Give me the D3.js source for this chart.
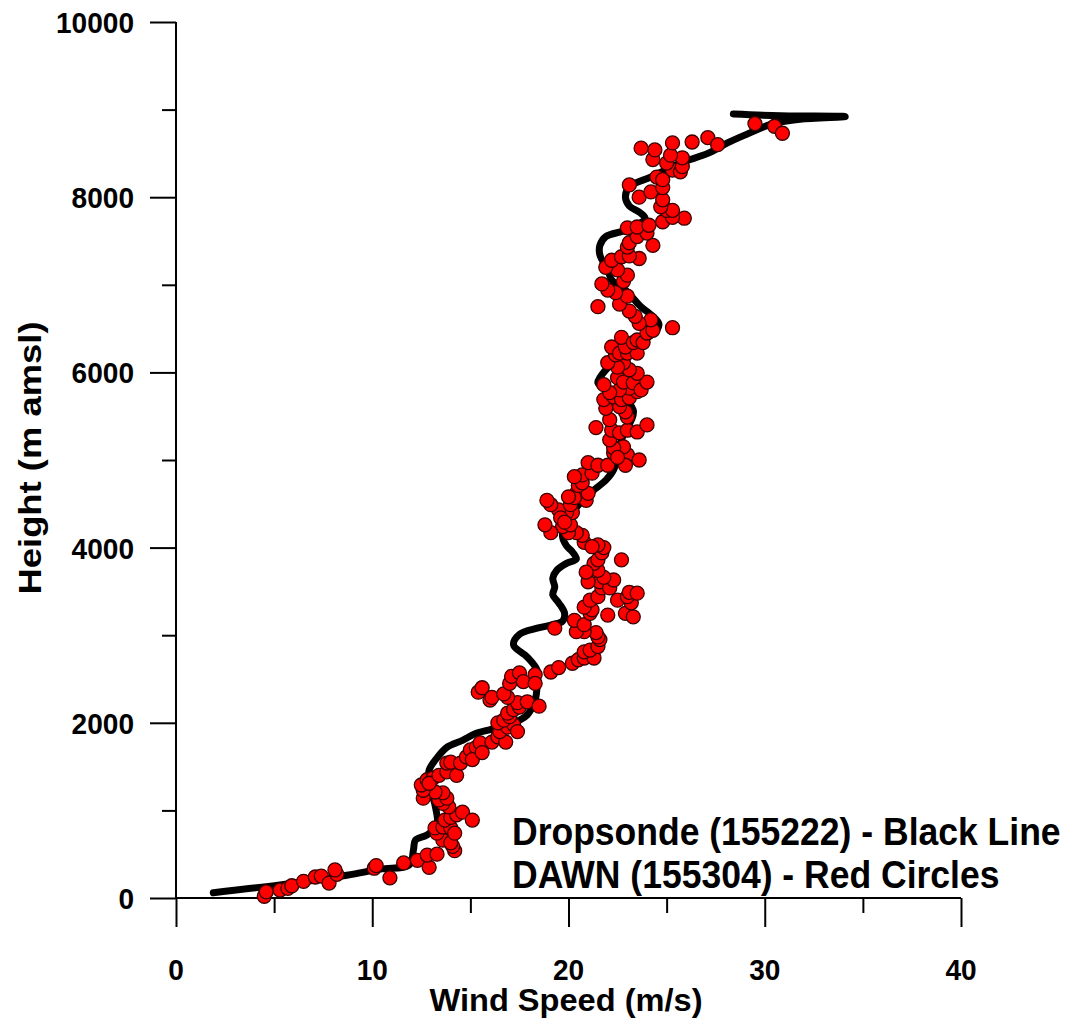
<!DOCTYPE html>
<html><head><meta charset="utf-8">
<script src="https://cdn.jsdelivr.net/npm/d3@7"></script>
<style>body{margin:0;background:#fff}svg{display:block}text{font-family:"Liberation Sans",Arial,sans-serif;font-weight:bold;fill:#000}</style>
</head><body><div id="chart"></div>
<script>
// Dropsonde (black line): wind speed (m/s), height (m amsl)
const sondeSpeed = [1.9,5.3,8.7,10.4,11.9,12.1,12.2,12.8,13.3,13.2,12.9,12.9,13.3,13.8,14.6,15.3,16.5,17.5,17.9,18.3,18.4,18.4,17.9,17.2,17.5,18.4,19.2,19.7,19.8,19.5,19.2,19.3,19.2,19.4,19.9,20.4,20.2,19.9,19.7,19.8,20.3,21.1,21.9,22.3,22.7,23.3,22.4,21.5,21.6,22.4,23.4,24.5,24.6,23.6,22.9,22.2,22.0,21.6,21.6,21.9,23.0,23.9,23.6,23.1,22.9,23.1,24.2,25.7,27.1,28.1,29.1,30.4,31.8,34.1,30.8,28.4];
const sondeHeight = [60,150,260,330,380,550,660,720,830,1060,1290,1460,1600,1720,1800,1880,1950,2030,2090,2260,2430,2600,2750,2890,3010,3080,3120,3160,3250,3370,3460,3550,3650,3740,3820,3870,3950,4020,4120,4260,4430,4620,4770,4890,5230,5570,5740,5880,5940,6140,6310,6480,6560,6770,6940,7055,7170,7340,7450,7550,7630,7760,7830,7900,8000,8120,8230,8390,8500,8620,8720,8840,8890,8920,8930,8950];
// DAWN (red circles)
const dawnSpeed = [4.5,4.6,5.3,5.7,5.9,6.5,7.1,7.4,7.8,8.2,8.1,10.1,10.2,10.9,11.6,12.3,12.9,12.8,13.3,14.2,14.1,13.6,14.0,13.3,13.2,13.6,14.0,14.2,13.7,14.0,14.3,14.6,15.1,13.9,13.6,13.4,13.8,13.6,13.2,12.6,12.6,12.5,12.8,13.1,12.9,13.4,13.8,13.8,14.0,14.3,14.5,14.8,15.0,15.3,15.5,15.1,15.6,16.1,16.4,16.8,16.5,16.9,17.2,17.4,16.4,16.7,17.0,16.9,17.2,17.5,17.4,17.9,18.5,16.0,16.9,15.4,15.6,16.1,16.7,17.0,17.1,17.5,17.7,18.3,18.3,19.1,19.5,20.2,20.5,20.8,21.3,20.8,21.1,21.5,21.6,21.5,21.4,20.8,20.4,20.3,20.8,19.3,21.1,21.2,20.8,21.1,21.5,22.0,22.5,22.9,23.3,23.2,23.0,23.1,23.5,21.7,21.6,22.1,22.3,21.8,21.5,21.3,21.5,21.0,20.9,21.7,21.8,21.5,22.7,20.8,20.7,20.4,20.0,19.7,20.1,19.1,18.8,20.2,19.9,19.5,19.1,18.9,20.1,20.9,19.6,19.8,21.2,20.4,20.3,20.0,21.0,20.5,20.7,20.7,20.3,21.2,21.0,21.5,22.0,22.3,23.0,22.9,23.6,22.8,22.3,22.5,22.1,21.4,22.2,22.6,23.0,23.5,24.0,22.1,23.0,22.9,22.6,21.9,21.8,22.3,22.7,23.1,23.5,23.1,22.6,22.1,21.8,22.5,22.8,23.3,23.7,24.0,23.5,23.1,22.8,22.5,22.0,22.4,22.2,22.6,23.0,23.5,22.9,22.7,23.3,23.5,23.8,24.0,24.3,25.3,24.2,23.6,23.4,23.1,21.5,22.6,23.0,22.4,22.0,21.7,22.8,23.0,22.5,21.9,22.2,22.7,23.6,23.1,23.0,23.1,24.3,23.5,24.0,23.0,23.5,24.1,24.8,25.9,25.3,25.0,25.3,24.7,24.8,23.6,24.2,24.8,23.1,24.5,24.8,25.3,25.7,25.8,25.8,25.0,25.2,25.3,24.3,24.4,23.7,26.3,27.1,27.6,29.5,30.5,30.9];
const dawnHeight = [20,70,90,110,140,190,240,250,170,270,320,340,370,230,400,430,350,490,500,540,590,660,630,740,800,810,800,740,890,920,950,980,890,1040,1080,1120,1140,1200,1210,1140,1230,1290,1350,1370,1310,1400,1440,1540,1550,1400,1540,1610,1690,1720,1770,1580,1660,1780,1840,1780,1900,1950,1980,1900,2000,2030,2070,2110,2150,2180,2230,2240,2190,2260,2290,2350,2400,2290,2330,2450,2530,2570,2470,2550,2450,2580,2630,2680,2720,2740,2740,2810,2830,2870,2950,2980,3030,3040,3040,3170,3120,3080,3250,3290,3320,3400,3440,3230,3400,3250,3210,3370,3440,3490,3480,3540,3610,3540,3630,3660,3740,3820,3860,3610,3720,3940,4000,4030,3860,4060,4140,4170,4170,4240,4260,4170,4260,4400,4400,4430,4490,4540,4490,4540,4340,4290,4010,4620,4570,4580,4620,4710,4740,4830,4810,4850,4970,4940,4940,5080,5060,4940,5000,5150,5140,5030,5230,5370,5340,5310,5340,5320,5400,5460,5490,5550,5610,5590,5690,5720,5690,5710,5780,5820,5800,5770,5860,5940,5890,5880,5800,5890,5990,6030,6110,6060,6110,6200,6290,6220,6220,6220,6290,6400,6340,6370,6340,6450,6480,6510,6600,6560,6640,6700,6750,6780,6870,6910,6940,7010,7040,7110,7170,7200,7280,7320,7300,7330,7430,7480,7450,7550,7590,7650,7660,7680,7720,7760,7770,7850,7850,7890,7970,8000,8060,8110,8140,8230,8200,8310,8290,8350,8450,8390,8480,8620,8430,8540,8560,8630,8680,8600,8840,8810,8730];
const xTicks = [0,10,20,30,40];
const yTicks = [0,2000,4000,6000,8000,10000];
const xLabel = "Wind Speed (m/s)";
const yLabel = "Height (m amsl)";
const legendLines = ["Dropsonde (155222) - Black Line","DAWN (155304) - Red Circles"];

const W = 1076, H = 1023;
const svg = d3.select("#chart").append("svg").attr("width",W).attr("height",H);
const x = d3.scaleLinear().domain([0,40]).range([176,961]);
const y = d3.scaleLinear().domain([0,10000]).range([898,22]);

// axes
const gx = svg.append("g").attr("transform","translate(0,898)");
gx.call(d3.axisBottom(x).tickValues(d3.range(0,41,5)).tickSize(15).tickFormat(""));
gx.selectAll(".tick line").filter(d=>d%10===0).attr("y2",29);
gx.select(".domain").attr("d","M176,0H961");
gx.selectAll("path,line").attr("stroke","#000").attr("stroke-width",2);
xTicks.forEach(t=>{
  const s = String(t);
  svg.append("text").attr("x",x(t)).attr("y",980).attr("text-anchor","middle").attr("font-size",30)
    .attr("textLength",s.length*15.6).attr("lengthAdjust","spacingAndGlyphs").text(s);
});
const gy = svg.append("g").attr("transform","translate(176,0)");
gy.call(d3.axisLeft(y).tickValues(d3.range(0,10001,1000)).tickSize(14).tickFormat(""));
gy.selectAll(".tick line").filter(d=>d%2000===0).attr("x2",-26);
gy.select(".domain").attr("d","M0,22V898");
gy.selectAll("path,line").attr("stroke","#000").attr("stroke-width",2);
yTicks.forEach(t=>{
  const s = String(t);
  svg.append("text").attr("x",134).attr("y",y(t)+11).attr("text-anchor","end").attr("font-size",30)
    .attr("textLength",s.length*15.6).attr("lengthAdjust","spacingAndGlyphs").text(s);
});

// titles
svg.append("text").attr("x",566).attr("y",1011).attr("text-anchor","middle").attr("font-size",31)
  .attr("textLength",273).attr("lengthAdjust","spacingAndGlyphs").text(xLabel);
svg.append("text").attr("transform","translate(41,458) rotate(-90)").attr("text-anchor","middle").attr("font-size",31)
  .attr("textLength",273).attr("lengthAdjust","spacingAndGlyphs").text(yLabel);

// dropsonde line
const sonde = sondeSpeed.map((s,i)=>[s,sondeHeight[i]]);
svg.append("path").datum(sonde)
  .attr("d",d3.line().x(d=>x(d[0])).y(d=>y(d[1])).curve(d3.curveCatmullRom.alpha(0.5)))
  .attr("fill","none").attr("stroke","#000").attr("stroke-width",7)
  .attr("stroke-linejoin","round").attr("stroke-linecap","round");

// DAWN circles
const dawn = dawnSpeed.map((s,i)=>[s,dawnHeight[i]]);
svg.append("g").selectAll("circle").data(dawn).enter().append("circle")
  .attr("cx",d=>x(d[0])).attr("cy",d=>y(d[1])).attr("r",7)
  .attr("fill","#ff0000").attr("stroke","#3a0000").attr("stroke-width",1.3);

// legend text (horizontally condensed via scale)
legendLines.forEach((t,i)=>{
  svg.append("text").attr("transform",`translate(512,${845+i*43}) scale(0.935,1)`)
    .attr("font-size",38).text(t);
});
</script></body></html>
